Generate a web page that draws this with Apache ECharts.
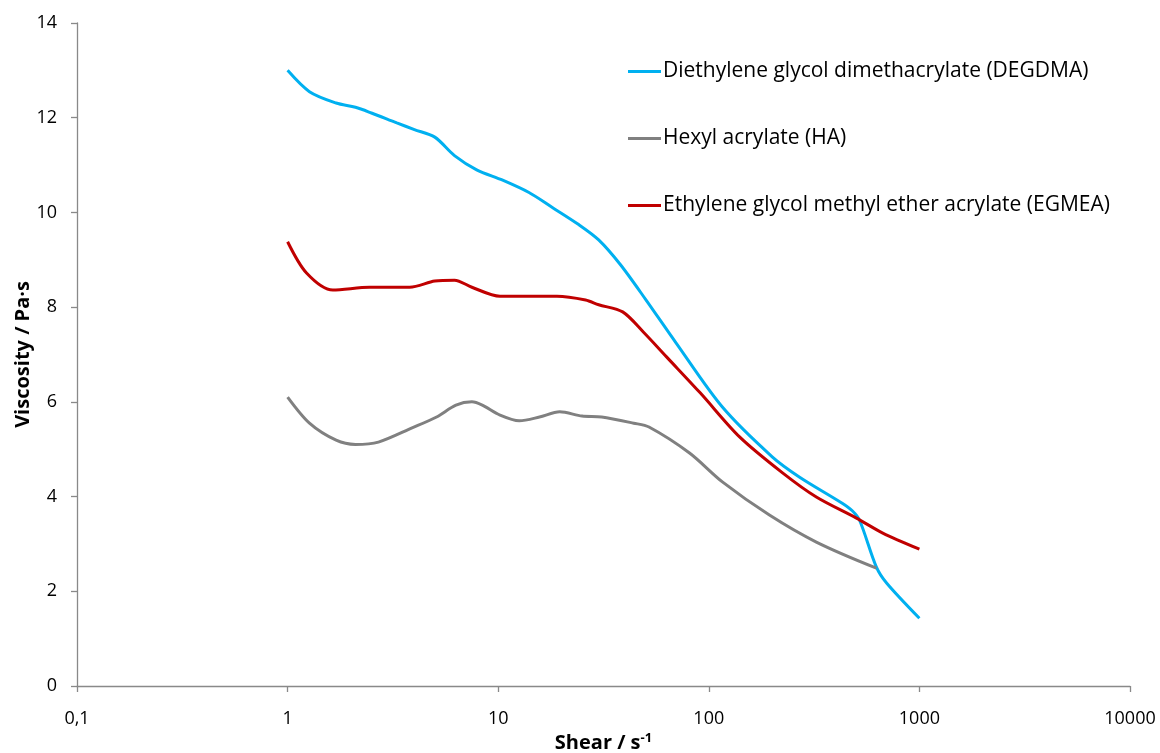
<!DOCTYPE html>
<html>
<head>
<meta charset="utf-8">
<script src="https://cdn.jsdelivr.net/npm/echarts@6/dist/echarts.min.js"></script>
<style>html,body{margin:0;padding:0;background:#fff;}#c{width:1160px;height:753px;}</style>
</head>
<body>
<div id="c"></div>
<script>
var xTicks = [0.1, 1, 10, 100, 1000, 10000];
var yTicks = [0, 2, 4, 6, 8, 10, 12, 14];

var degdmaShear = [1, 1.27, 1.7, 2.1, 2.5, 3.3, 4.0, 5.0, 6.2, 7.9, 10.5, 14, 18, 24, 30, 38, 50, 70, 116, 200, 270, 430, 480, 520, 625, 700, 1000];
var degdmaVisc  = [13.0, 12.55, 12.31, 12.22, 12.1, 11.89, 11.75, 11.59, 11.2, 10.9, 10.68, 10.42, 10.11, 9.75, 9.42, 8.9, 8.17, 7.24, 5.89, 4.84, 4.41, 3.86, 3.7, 3.5, 2.51, 2.17, 1.43];

var haShear = [1, 1.27, 1.7, 2.1, 2.7, 3.9, 5.1, 6.3, 7.5, 8.4, 10.2, 12.6, 15.7, 19.6, 25, 31, 44, 52, 81, 116, 194, 324, 625];
var haVisc  = [6.1, 5.55, 5.19, 5.1, 5.15, 5.45, 5.68, 5.93, 6.0, 5.93, 5.72, 5.6, 5.68, 5.79, 5.7, 5.68, 5.55, 5.47, 4.92, 4.31, 3.61, 3.04, 2.49];

var egmeaShear = [1, 1.23, 1.64, 2.45, 3.8, 5.0, 6.2, 7.5, 10.2, 19, 26, 30, 39, 49, 63, 91, 140, 224, 324, 500, 670, 1000];
var egmeaVisc  = [9.38, 8.72, 8.36, 8.42, 8.42, 8.55, 8.57, 8.42, 8.23, 8.23, 8.15, 8.05, 7.9, 7.47, 6.95, 6.19, 5.26, 4.5, 3.99, 3.55, 3.23, 2.89];

var seriesNames = ['Diethylene glycol dimethacrylate (DEGDMA)', 'Hexyl acrylate (HA)', 'Ethylene glycol methyl ether acrylate (EGMEA)'];
var seriesColors = ['#00B0F0', '#808080', '#C00000'];

function pairs(xs, ys) { return xs.map(function (x, i) { return [x, ys[i]]; }); }

var chart = echarts.init(document.getElementById('c'));
var axisColor = '#898989';
var font = 'Open Sans';
chart.setOption({
  animation: false,
  backgroundColor: '#fff',
  textStyle: { fontFamily: font },
  grid: { left: 77, right: 30, top: 23, bottom: 67, containLabel: false, outerBoundsMode: 'none' },
  legend: {
    orient: 'vertical',
    left: 628,
    top: 61,
    padding: 0,
    itemWidth: 33,
    itemHeight: 14,
    itemGap: 46,
    icon: 'path://M0,5.5 L33,5.5 L33,8.5 L0,8.5 Z',
    data: seriesNames.map(function (n, i) { return { name: n, itemStyle: { color: seriesColors[i] } }; }),
    textStyle: { fontFamily: font, fontSize: 21, color: '#000', padding: [0, 0, 0, -3] }
  },
  xAxis: {
    type: 'log',
    logBase: 10,
    min: xTicks[0],
    max: xTicks[xTicks.length - 1],
    name: '{a|Shear / s}{b|-1}',
    nameLocation: 'middle',
    nameMoveOverlap: false,
    nameGap: 46,
    nameTextStyle: {
      rich: {
        a: { fontFamily: font, fontSize: 20, fontWeight: 'bold', color: '#000' },
        b: { fontFamily: font, fontSize: 13, fontWeight: 'bold', color: '#000', padding: [0, 0, 10, 0] }
      }
    },
    axisLine: { show: true, lineStyle: { color: axisColor, width: 1.3 } },
    axisTick: { show: true, length: 6, lineStyle: { color: axisColor, width: 1.3 } },
    minorTick: { show: false },
    splitLine: { show: false },
    axisLabel: {
      margin: 24,
      fontFamily: font, fontSize: 18, color: '#000',
      formatter: function (v) { return String(v).replace('.', ','); }
    }
  },
  yAxis: {
    type: 'value',
    min: yTicks[0],
    max: yTicks[yTicks.length - 1],
    interval: 2,
    name: 'Viscosity / Pa·s',
    nameLocation: 'middle',
    nameMoveOverlap: false,
    nameGap: 44,
    nameRotate: 90,
    nameTextStyle: { fontFamily: font, fontSize: 20, fontWeight: 'bold', color: '#000' },
    axisLine: { show: true, lineStyle: { color: axisColor, width: 1.3 } },
    axisTick: { show: true, length: 6, lineStyle: { color: axisColor, width: 1.3 } },
    splitLine: { show: false },
    axisLabel: { margin: 20, fontFamily: font, fontSize: 18, color: '#000' }
  },
  series: [
    { name: seriesNames[0], type: 'line', data: pairs(degdmaShear, degdmaVisc) },
    { name: seriesNames[1], type: 'line', data: pairs(haShear, haVisc) },
    { name: seriesNames[2], type: 'line', data: pairs(egmeaShear, egmeaVisc) }
  ].map(function (s, i) {
    s.smooth = 0.3;
    s.showSymbol = false;
    s.symbol = 'none';
    s.color = seriesColors[i];
    s.lineStyle = { color: seriesColors[i], width: 3 };
    return s;
  })
});
</script>
</body>
</html>
